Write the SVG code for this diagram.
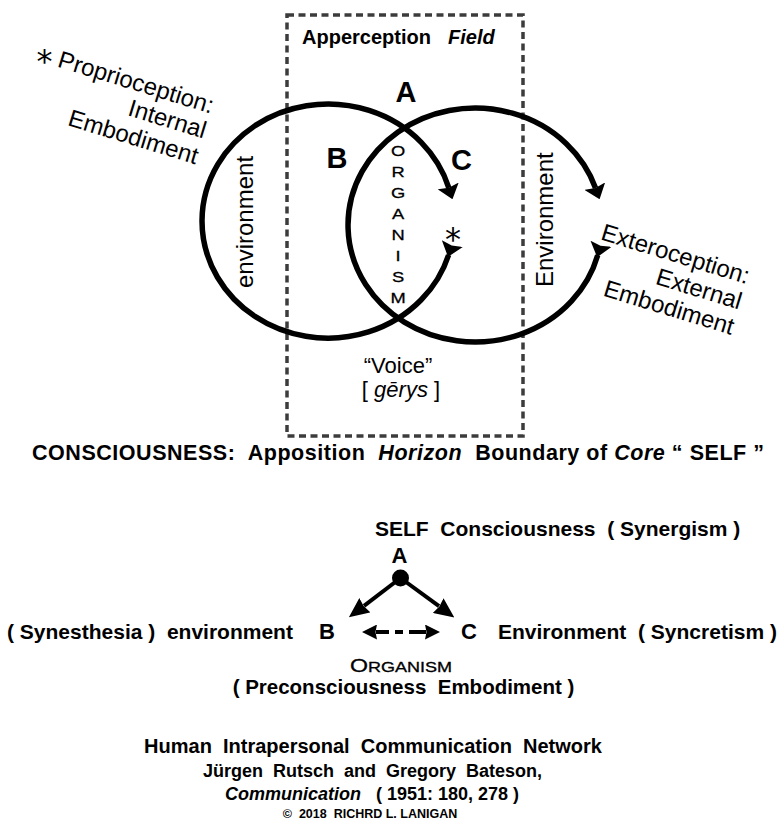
<svg xmlns="http://www.w3.org/2000/svg" width="779" height="824" viewBox="0 0 779 824">
  <style>
    text { font-family: "Liberation Sans", Arial, Helvetica, sans-serif; fill: #000; white-space: pre; }
    .b { font-weight: bold; }
    .i { font-style: italic; }
    .ring { fill: none; stroke: #000; stroke-width: 5.5; }
    .field { fill: none; stroke: #3c3c3c; stroke-width: 3.5; stroke-dasharray: 7 4.5; }
    .link { fill: none; stroke: #000; stroke-width: 4; }
    .star { font-family: "DejaVu Sans", sans-serif; font-size: 32px; }
    .caps { font-family: "Liberation Sans", Arial, sans-serif; }
  </style>
  <defs>
    <!-- arrowhead placed beyond the end of a ring -->
    <marker id="ringHead" markerUnits="userSpaceOnUse" viewBox="0 0 14 22" markerWidth="14" markerHeight="22" refX="2" refY="11" orient="auto">
      <path d="M0,0 L14,11 L0,22 L2,11 Z" fill="#000"/>
    </marker>
    <!-- barb at the start of a ring, pointing along the direction of travel -->
    <marker id="ringTail" markerUnits="userSpaceOnUse" viewBox="0 0 14 22" markerWidth="14" markerHeight="22" refX="12" refY="11" orient="auto">
      <path d="M0,0 L14,11 L0,22 L2,11 Z" fill="#000"/>
    </marker>
    <marker id="tri" markerUnits="userSpaceOnUse" viewBox="0 0 20 18" markerWidth="20" markerHeight="18" refX="1" refY="9" orient="auto">
      <path d="M0,0 L20,9 L0,18 L1.5,9 Z" fill="#000"/>
    </marker>
    <marker id="triS" markerUnits="userSpaceOnUse" viewBox="0 0 15 15" markerWidth="15" markerHeight="15" refX="1" refY="7.5" orient="auto-start-reverse">
      <path d="M0,0 L15,7.5 L0,15 L1.5,7.5 Z" fill="#000"/>
    </marker>
  </defs>

  <!-- apperception field frame -->
  <g id="apperception-field">
    <rect class="field" x="287" y="15" width="236" height="421"/>
    <text class="b" x="302" y="44" font-size="20">Apperception<tspan class="i" x="448">Field</tspan></text>
  </g>

  <!-- the two circulating rings -->
  <g id="connectors-rings">
    <path class="ring" d="M448.6,255 A126,117 0 1 1 448.8,187.8" marker-start="url(#ringTail)" marker-end="url(#ringHead)"/>
    <path class="ring" d="M597.7,255.3 A127,117 0 1 1 595.5,188" marker-start="url(#ringTail)" marker-end="url(#ringHead)"/>
  </g>

  <g id="ring-left-label">
    <text transform="translate(253,288) rotate(-90)" font-size="24">environment</text>
  </g>
  <g id="ring-right-label">
    <text transform="translate(553,287) rotate(-90)" font-size="24">Environment</text>
  </g>

  <g id="node-A-top"><text class="b" x="406" y="102" font-size="29" text-anchor="middle">A</text></g>
  <g id="node-B-top"><text class="b" x="337" y="168" font-size="29" text-anchor="middle">B</text></g>
  <g id="node-C-top"><text class="b" x="461.5" y="170" font-size="29" text-anchor="middle">C</text></g>

  <!-- stacked letters in the overlap -->
  <g id="organism-vertical" font-size="15.5" text-anchor="middle" stroke="#000" stroke-width="0.3">
    <text transform="translate(398,155.5) scale(1.18,1)">O</text>
    <text transform="translate(398,176.6) scale(1.18,1)">R</text>
    <text transform="translate(398,197.7) scale(1.18,1)">G</text>
    <text transform="translate(398,218.8) scale(1.18,1)">A</text>
    <text transform="translate(398,239.9) scale(1.18,1)">N</text>
    <text transform="translate(398,261) scale(1.18,1)">I</text>
    <text transform="translate(398,282.1) scale(1.18,1)">S</text>
    <text transform="translate(398,303.2) scale(1.18,1)">M</text>
  </g>

  <g id="star-center"><text class="star" x="453" y="250" text-anchor="middle">*</text></g>

  <g id="proprioception">
    <text class="star" x="44.5" y="72" text-anchor="middle">*</text>
    <g transform="rotate(17)" font-size="24" text-anchor="end">
      <text x="235" y="47">Proprioception:</text>
      <text x="235" y="73">Internal</text>
      <text x="235" y="100">Embodiment</text>
    </g>
  </g>

  <g id="exteroception">
    <g transform="rotate(17)" font-size="24" text-anchor="end">
      <text x="797" y="53.5">Exteroception:</text>
      <text x="797" y="80">External</text>
      <text x="797" y="106.5">Embodiment</text>
    </g>
  </g>

  <g id="voice">
    <text x="398" y="373" font-size="22" text-anchor="middle">“Voice”</text>
    <text x="401" y="397" font-size="22" text-anchor="middle">[ <tspan class="i">gērys</tspan> ]</text>
  </g>

  <g id="consciousness-caption">
    <text class="b" x="32" y="460" font-size="21.5" textLength="732" lengthAdjust="spacing">CONSCIOUSNESS:  Apposition  <tspan class="i">Horizon</tspan>  Boundary of <tspan class="i">Core</tspan> “ SELF ”</text>
  </g>

  <!-- lower network -->
  <g id="node-A">
    <text class="b" x="375" y="536" font-size="21">SELF  Consciousness  ( Synergism )</text>
    <text class="b" x="399.5" y="563" font-size="22" text-anchor="middle">A</text>
    <circle cx="400.5" cy="578" r="8.5"/>
  </g>
  <g id="node-B">
    <text class="b" x="7" y="639" font-size="21">( Synesthesia )  environment</text>
    <text class="b" x="319" y="639" font-size="22">B</text>
  </g>
  <g id="node-C">
    <text class="b" x="461" y="639" font-size="22">C</text>
    <text class="b" x="498" y="639" font-size="21">Environment  ( Syncretism )</text>
  </g>
  <g id="organism-label">
    <text class="caps" x="401" y="672" text-anchor="middle" textLength="102" lengthAdjust="spacingAndGlyphs" stroke="#000" stroke-width="0.3"><tspan font-size="18">O</tspan><tspan font-size="14">RGANISM</tspan></text>
    <text class="b" x="403.5" y="694" font-size="20.5" text-anchor="middle">( Preconsciousness  Embodiment )</text>
  </g>

  <g id="connectors">
    <line class="link" x1="400.5" y1="578" x2="364" y2="605.8" marker-end="url(#tri)"/>
    <line class="link" x1="400.5" y1="578" x2="439" y2="606.2" marker-end="url(#tri)"/>
    <line class="link" x1="376" y1="632" x2="426" y2="632" stroke-dasharray="13 6 8 6 30" marker-start="url(#triS)" marker-end="url(#triS)"/>
  </g>

  <g id="credits" text-anchor="middle">
    <text class="b" x="373" y="753" font-size="20">Human  Intrapersonal  Communication  Network</text>
    <text class="b" x="372.5" y="777" font-size="18">Jürgen  Rutsch  and  Gregory  Bateson,</text>
    <text class="b" x="372" y="800" font-size="18"><tspan class="i">Communication</tspan>   ( 1951: 180, 278 )</text>
    <text class="b" x="370" y="818" font-size="12.5">©  2018  RICHRD L. LANIGAN</text>
  </g>
</svg>
